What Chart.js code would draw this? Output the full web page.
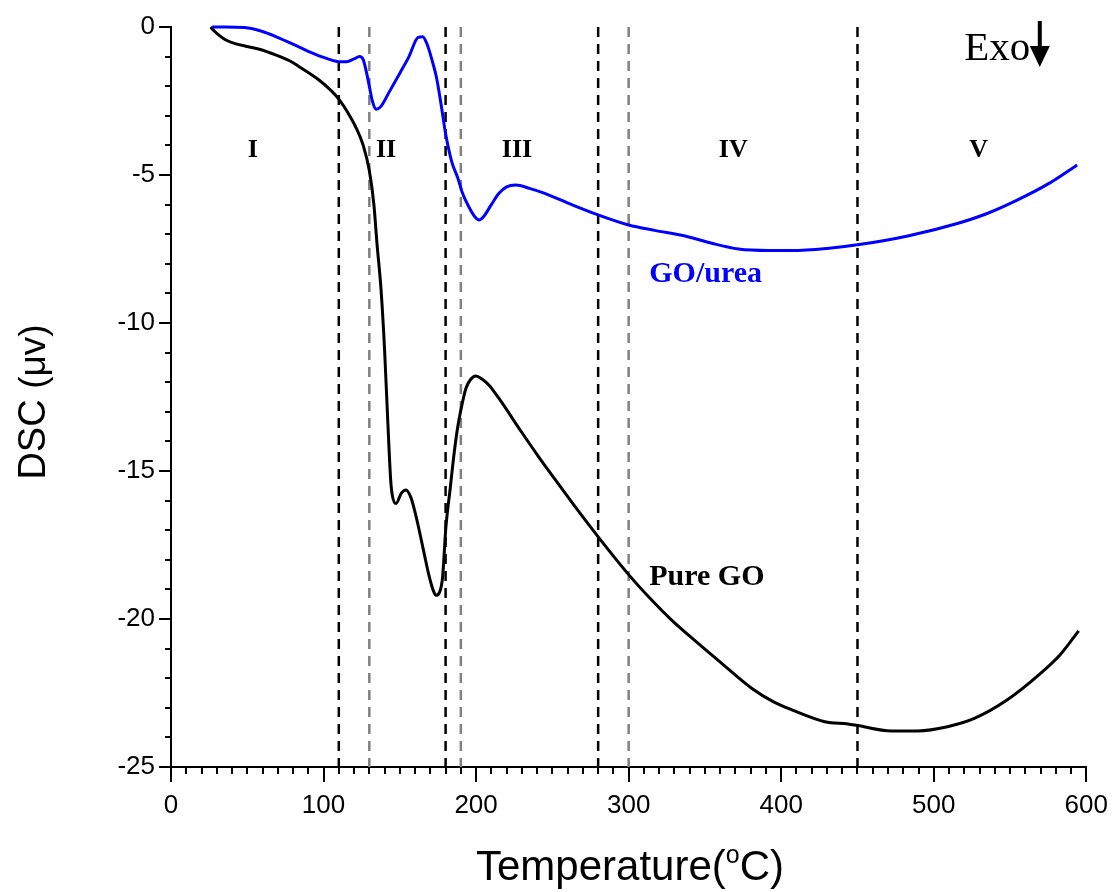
<!DOCTYPE html>
<html>
<head>
<meta charset="utf-8">
<script src="https://cdn.jsdelivr.net/npm/chart.js@4.4.1/dist/chart.umd.min.js"></script>
<style>
  html, body { margin: 0; padding: 0; background: #fff; }
  #wrap { width: 1116px; height: 892px; }
</style>
</head>
<body>
<div id="wrap"><canvas id="dscChart" width="1116" height="892"></canvas></div>
<script>
// GO/urea curve (temperature, DSC)
const ureaTemp = [27, 35, 48, 60, 69, 80, 90, 102, 110, 115, 120, 123.5, 126, 128, 130, 132, 134.5, 137.5, 143, 150, 156, 162, 165, 168, 171, 174, 177, 180, 184, 188, 191, 196, 199, 202, 205, 210, 215, 220, 226, 235, 245, 263, 280, 300, 317, 337, 354, 372, 392, 407, 430, 450, 483, 516, 535, 555, 575, 594];
const ureaDsc = [0, 0, -0.02, -0.15, -0.33, -0.58, -0.82, -1.06, -1.17, -1.17, -1.08, -1.0, -1.1, -1.5, -2.0, -2.5, -2.78, -2.69, -2.2, -1.56, -1.0, -0.35, -0.33, -0.6, -1.1, -1.7, -2.6, -3.6, -4.55, -5.1, -5.6, -6.15, -6.4, -6.52, -6.4, -6.0, -5.62, -5.4, -5.34, -5.45, -5.62, -6.01, -6.35, -6.69, -6.87, -7.06, -7.3, -7.5, -7.55, -7.55, -7.48, -7.36, -7.06, -6.63, -6.3, -5.84, -5.3, -4.66];

// Pure GO curve
const pureTemp = [26, 28, 32, 36, 42, 50, 58, 69, 78, 84, 97, 105, 110.5, 116, 121, 126, 130, 133, 135, 137.7, 140, 142, 144, 145, 147.5, 151, 154, 157.3, 160, 162.7, 166, 169.3, 172, 173.7, 176, 178, 180.2, 183, 185.6, 188, 190, 193.3, 196.5, 199.8, 204, 208.5, 215, 230, 241, 252, 267, 280.4, 300, 314, 328, 345, 361, 380.6, 395, 407, 428.6, 443.8, 450, 472, 489.5, 509, 526.6, 548, 570, 583, 595];
const pureDsc = [0, -0.12, -0.3, -0.44, -0.56, -0.66, -0.75, -0.95, -1.15, -1.34, -1.79, -2.15, -2.47, -2.9, -3.37, -4.0, -4.85, -6.0, -7.3, -8.88, -10.9, -13.2, -15.3, -15.8, -16.1, -15.75, -15.64, -15.9, -16.4, -17.0, -17.8, -18.57, -19.05, -19.2, -19.1, -18.6, -16.9, -15.6, -14.4, -13.5, -12.94, -12.21, -11.9, -11.79, -11.9, -12.1, -12.55, -13.7, -14.52, -15.3, -16.35, -17.25, -18.5, -19.3, -20.03, -20.8, -21.5, -22.34, -22.8, -23.07, -23.47, -23.55, -23.6, -23.78, -23.78, -23.64, -23.36, -22.74, -21.84, -21.2, -20.4];

// region boundaries
const blackBounds = [110, 180, 280, 450];
const grayBounds = [130, 190, 300];

// axis ticks
const xTicks = [0, 100, 200, 300, 400, 500, 600];
const yTicks = [0, -5, -10, -15, -20, -25];

// text labels (data coordinates)
const regionNames = ['I', 'II', 'III', 'IV', 'V'];
const regionCenters = [53.6, 141, 226.8, 368.6, 529.4];

const toPoints = (xs, ys) => xs.map((x, i) => ({ x: x, y: ys[i] }));

const boundLine = (t, color) => ({
    data: [{ x: t, y: 0 }, { x: t, y: -25 }],
    borderColor: color,
    borderWidth: 2.5,
    borderDash: [10, 7],
    pointRadius: 0,
    tension: 0
});

const SERIF = '"Liberation Serif", "Times New Roman", serif';
const SANS = '"Liberation Sans", Arial, sans-serif';

// minor ticks, axis titles, annotations
const decorPlugin = {
    id: 'decor',
    afterDraw(chart) {
        const ctx = chart.ctx;
        const xs = chart.scales.x;
        const ys = chart.scales.y;
        const area = chart.chartArea;
        ctx.save();
        ctx.strokeStyle = '#000';
        ctx.lineWidth = 2;
        // minor ticks on x
        for (let v = 10; v < 600; v += 10) {
            if (v % 100 === 0) continue;
            const px = Math.round(xs.getPixelForValue(v));
            ctx.beginPath();
            ctx.moveTo(px, area.bottom);
            ctx.lineTo(px, area.bottom + 7);
            ctx.stroke();
        }
        // minor ticks on y
        for (let v = -1; v > -25; v -= 1) {
            if (v % 5 === 0) continue;
            const py = Math.round(ys.getPixelForValue(v));
            ctx.beginPath();
            ctx.moveTo(area.left, py);
            ctx.lineTo(area.left - 6, py);
            ctx.stroke();
        }

        ctx.fillStyle = '#000';
        // region labels
        ctx.font = 'bold 26px ' + SERIF;
        ctx.textAlign = 'center';
        ctx.textBaseline = 'alphabetic';
        regionNames.forEach((name, i) => {
            ctx.fillText(name, xs.getPixelForValue(regionCenters[i]), ys.getPixelForValue(-4.38));
        });

        // series labels
        ctx.font = 'bold 30px ' + SERIF;
        ctx.textAlign = 'left';
        ctx.fillStyle = '#0000ff';
        ctx.fillText('GO/urea', xs.getPixelForValue(313.5), ys.getPixelForValue(-8.61));
        ctx.fillStyle = '#000';
        ctx.fillText('Pure GO', xs.getPixelForValue(313.5), ys.getPixelForValue(-18.85));

        // Exo arrow
        ctx.font = '41px ' + SERIF;
        ctx.fillText('Exo', xs.getPixelForValue(520), ys.getPixelForValue(-1.11));
        const ax = xs.getPixelForValue(569.5);
        const ay = ys.getPixelForValue(0);
        ctx.lineWidth = 4;
        ctx.beginPath();
        ctx.moveTo(ax, ay - 6);
        ctx.lineTo(ax, ay + 22);
        ctx.stroke();
        ctx.beginPath();
        ctx.moveTo(ax - 10, ay + 19);
        ctx.lineTo(ax + 10, ay + 19);
        ctx.lineTo(ax, ay + 40);
        ctx.closePath();
        ctx.fill();

        // x axis title
        ctx.textBaseline = 'alphabetic';
        const p1 = 'Temperature(';
        const p3 = 'C)';
        ctx.font = '42px ' + SANS;
        const w1 = ctx.measureText(p1).width;
        const w3 = ctx.measureText(p3).width;
        ctx.font = '25px ' + SANS;
        const w2 = ctx.measureText('o').width;
        const total = w1 + w2 + w3;
        const tx = 630 - total / 2;
        const ty = 880;
        ctx.font = '42px ' + SANS;
        ctx.fillText(p1, tx, ty);
        ctx.font = '25px ' + SANS;
        ctx.fillText('o', tx + w1, ty - 17);
        ctx.font = '42px ' + SANS;
        ctx.fillText(p3, tx + w1 + w2, ty);

        // y axis title
        ctx.translate(45, 402);
        ctx.rotate(-Math.PI / 2);
        ctx.font = '38px ' + SANS;
        const d1 = 'DSC ';
        const dw1 = ctx.measureText(d1).width;
        ctx.font = '37px ' + SANS;
        const d2 = '(\u03bcv)';
        const dw2 = ctx.measureText(d2).width;
        const start = -(dw1 + dw2) / 2;
        ctx.font = '38px ' + SANS;
        ctx.fillText(d1, start, 0);
        ctx.font = '37px ' + SANS;
        ctx.fillText(d2, start + dw1, 0);
        ctx.restore();
    }
};

const datasets = [
    {
        label: 'GO/urea',
        data: toPoints(ureaTemp, ureaDsc),
        borderColor: '#0000ff',
        borderWidth: 3,
        pointRadius: 0,
        cubicInterpolationMode: 'monotone'
    },
    {
        label: 'Pure GO',
        data: toPoints(pureTemp, pureDsc),
        borderColor: '#000000',
        borderWidth: 3,
        pointRadius: 0,
        cubicInterpolationMode: 'monotone'
    }
];
blackBounds.forEach(t => datasets.push(boundLine(t, '#000000')));
grayBounds.forEach(t => datasets.push(boundLine(t, '#808080')));

const ctx = document.getElementById('dscChart').getContext('2d');
new Chart(ctx, {
    type: 'line',
    data: { datasets: datasets },
    options: {
        responsive: false,
        animation: false,
        clip: false,
        layout: { padding: { top: 27, right: 26, left: 0, bottom: 0 } },
        plugins: {
            legend: { display: false },
            tooltip: { enabled: false }
        },
        scales: {
            x: {
                type: 'linear',
                min: 0,
                max: 600,
                afterFit: (scale) => { scale.height = 125; },
                afterBuildTicks: (scale) => { scale.ticks = xTicks.map(v => ({ value: v })); },
                border: { display: true, color: '#000', width: 2 },
                grid: { display: true, drawOnChartArea: false, drawTicks: true, tickLength: 15, color: '#000', lineWidth: 2 },
                ticks: {
                    color: '#000',
                    font: { family: SANS, size: 26 },
                    padding: 8,
                    maxRotation: 0,
                    callback: (v) => String(v)
                }
            },
            y: {
                type: 'linear',
                min: -25,
                max: 0,
                afterFit: (scale) => { scale.width = 171; },
                afterBuildTicks: (scale) => { scale.ticks = yTicks.map(v => ({ value: v })); },
                border: { display: true, color: '#000', width: 2 },
                grid: { display: true, drawOnChartArea: false, drawTicks: true, tickLength: 12, color: '#000', lineWidth: 2 },
                ticks: {
                    color: '#000',
                    font: { family: SANS, size: 26 },
                    padding: 4,
                    callback: (v) => String(v)
                }
            }
        }
    },
    plugins: [decorPlugin]
});
</script>
</body>
</html>
